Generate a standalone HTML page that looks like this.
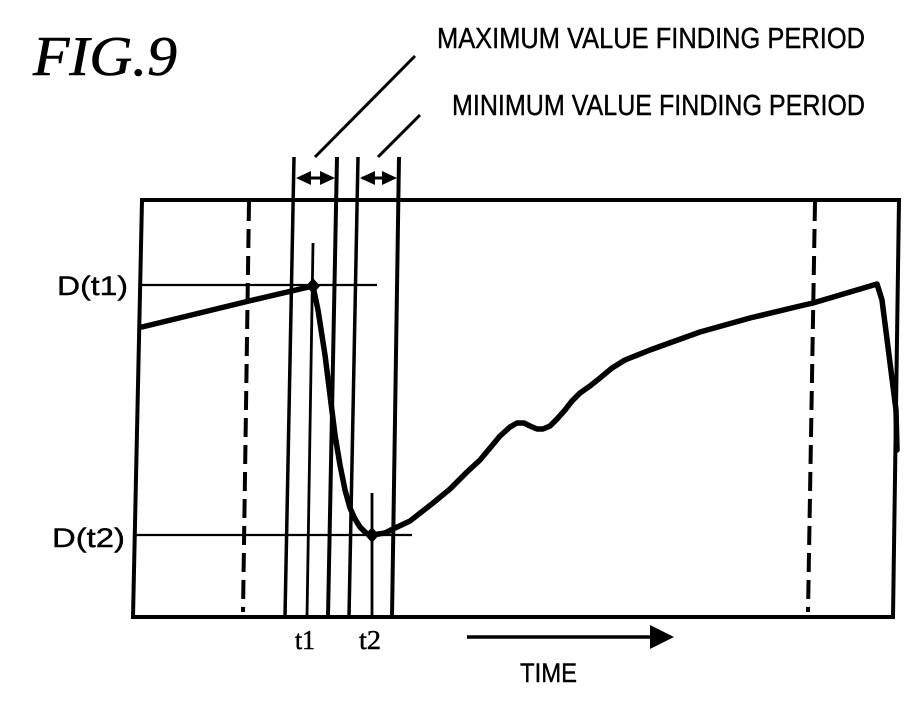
<!DOCTYPE html>
<html>
<head>
<meta charset="utf-8">
<style>
html,body{margin:0;padding:0;background:#fff;}
svg{display:block;}
</style>
</head>
<body>
<svg width="921" height="709" viewBox="0 0 921 709" xmlns="http://www.w3.org/2000/svg">
<rect width="921" height="709" fill="#fff"/>
<!-- title -->
<text x="33" y="75" font-family="Liberation Serif, serif" font-style="italic" font-size="56" textLength="144" lengthAdjust="spacingAndGlyphs" fill="#000" stroke="#000" stroke-width="0.6">FIG.9</text>
<text x="437" y="48" font-family="Liberation Sans, sans-serif" font-size="29" textLength="428" lengthAdjust="spacingAndGlyphs" fill="#000" stroke="#000" stroke-width="0.4">MAXIMUM VALUE FINDING PERIOD</text>
<text x="452" y="115" font-family="Liberation Sans, sans-serif" font-size="29" textLength="413" lengthAdjust="spacingAndGlyphs" fill="#000" stroke="#000" stroke-width="0.4">MINIMUM VALUE FINDING PERIOD</text>
<!-- leader lines -->
<line x1="415" y1="56" x2="315" y2="157" stroke="#000" stroke-width="3"/>
<line x1="420" y1="115" x2="378" y2="157" stroke="#000" stroke-width="3"/>
<!-- frame -->
<g stroke="#000" fill="none" stroke-linecap="square">
<line x1="142" y1="200" x2="899" y2="200" stroke-width="4"/>
<line x1="142" y1="200" x2="133" y2="617" stroke-width="4"/>
<line x1="133" y1="617" x2="893" y2="617" stroke-width="4"/>
<line x1="899" y1="200" x2="893" y2="617" stroke-width="4"/>
</g>
<!-- dashed lines -->
<line x1="249" y1="202" x2="243" y2="612" stroke="#000" stroke-width="4" stroke-dasharray="19 8"/>
<line x1="815" y1="202" x2="808" y2="612" stroke="#000" stroke-width="4" stroke-dasharray="19 8"/>
<!-- horizontal D lines -->
<line x1="142" y1="285" x2="377" y2="285" stroke="#000" stroke-width="2.2"/>
<line x1="135" y1="535" x2="412" y2="535" stroke="#000" stroke-width="2.2"/>
<!-- period boundary lines -->
<g stroke="#000" fill="none">
<line x1="294" y1="157" x2="285" y2="617" stroke-width="3.5"/>
<line x1="337" y1="157" x2="328" y2="617" stroke-width="4"/>
<line x1="358" y1="157" x2="349" y2="617" stroke-width="3.5"/>
<line x1="399" y1="157" x2="392" y2="617" stroke-width="4"/>
<line x1="313" y1="243" x2="307" y2="617" stroke-width="2.8"/>
<line x1="372" y1="493" x2="372" y2="617" stroke-width="2.8"/>
</g>
<!-- double arrows -->
<line x1="300" y1="178" x2="332" y2="178" stroke="#000" stroke-width="3"/>
<polygon points="296,178 311,171 311,185" fill="#000"/>
<polygon points="335,178 320,171 320,185" fill="#000"/>
<line x1="362" y1="178" x2="394" y2="178" stroke="#000" stroke-width="3"/>
<polygon points="360,178 375,171 375,185" fill="#000"/>
<polygon points="397,178 382,171 382,185" fill="#000"/>
<!-- main curve -->
<polyline fill="none" stroke="#000" stroke-width="5.5" stroke-linejoin="round" stroke-linecap="round"
points="142,327 249,301 313,286 318,310 325,355 330,395 335,435 340,465 345,490 350,508 355,519 360,527 366,533 372,535 385,533 393,529 410,521 433,503 450,489 467,472 480,460 490,448 500,436 510,427 517,423 524,423 530,426 537,429 543,429 550,426 557,419 565,410 572,401 580,393 590,386 600,378 612,368 625,360 650,350 700,332 750,318 800,306 813,303 877,284 882,300 896,410 897,450"/>
<!-- markers -->
<polygon points="313,278 320,286 313,294 306,286" fill="#000"/>
<polygon points="372,527 379,535 372,543 365,535" fill="#000"/>
<!-- axis labels -->
<text x="57" y="295" font-family="Liberation Sans, sans-serif" font-size="27" textLength="71" lengthAdjust="spacingAndGlyphs" fill="#000" stroke="#000" stroke-width="0.4">D(t1)</text>
<text x="52" y="547" font-family="Liberation Sans, sans-serif" font-size="27" textLength="73" lengthAdjust="spacingAndGlyphs" fill="#000" stroke="#000" stroke-width="0.4">D(t2)</text>
<text x="295" y="649" font-family="Liberation Serif, serif" font-size="27" textLength="20" lengthAdjust="spacingAndGlyphs" fill="#000" stroke="#000" stroke-width="0.5">t1</text>
<text x="359" y="649" font-family="Liberation Serif, serif" font-size="27" textLength="22" lengthAdjust="spacingAndGlyphs" fill="#000" stroke="#000" stroke-width="0.5">t2</text>
<!-- time arrow -->
<line x1="467" y1="637" x2="652" y2="637" stroke="#000" stroke-width="3.5"/>
<polygon points="650,625 674,637 650,649" fill="#000"/>
<text x="520" y="682" font-family="Liberation Sans, sans-serif" font-size="27" textLength="57" lengthAdjust="spacingAndGlyphs" fill="#000" stroke="#000" stroke-width="0.4">TIME</text>
</svg>
</body>
</html>
